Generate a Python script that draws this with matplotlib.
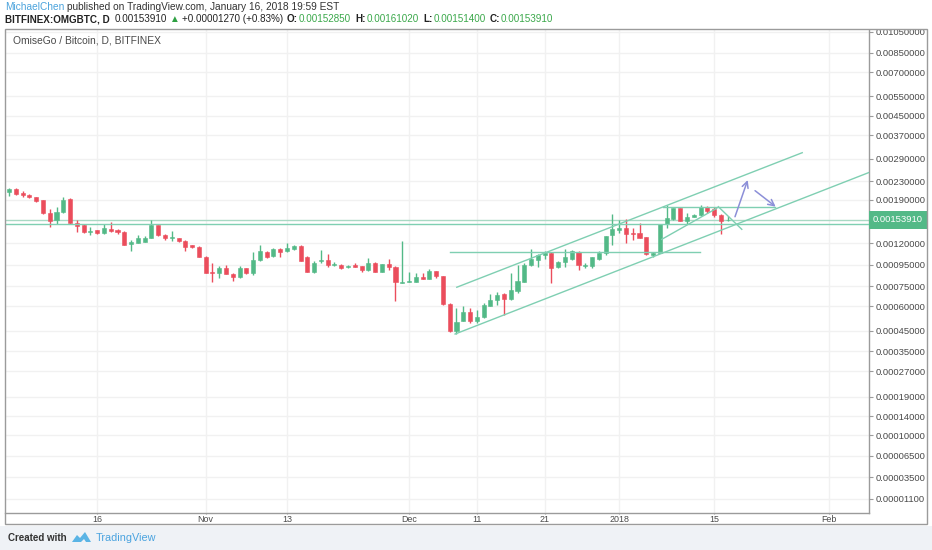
import numpy as np
import pandas as pd
import matplotlib
matplotlib.use('Agg')
import matplotlib.pyplot as plt
import matplotlib.dates as mdates
from matplotlib.patches import Rectangle, Polygon
from matplotlib.transforms import blended_transform_factory

plt.rcParams['font.family'] = ['Liberation Sans', 'DejaVu Sans']

# daily candles, BITFINEX:OMGBTC (values in micro-BTC)
dates = pd.date_range('2017-10-03', '2018-01-17', freq='D')

opens = [2060, 2126, 2039, 2002, 1955, 1894, 1658, 1535, 1671, 1914,
         1492, 1456, 1359, 1381, 1338, 1400, 1381, 1357, 1190, 1206,
         1219, 1272, 1456, 1309, 1272, 1268, 1228, 1173, 1156, 1038,
         882, 866, 915, 860, 829, 915, 866, 1001, 1095, 1046,
         1127, 1107, 1131, 1168, 1038, 882, 990, 998, 951, 951,
         925, 951, 938, 898, 972, 882, 958, 931, 782, 787,
         787, 829, 816, 886, 841, 614, 448, 506, 558, 506,
         527, 602, 642, 685, 647, 714, 789, 948, 1001, 1061,
         1084, 925, 983, 1012, 1095, 942, 938, 1009, 1080, 1309,
         1381, 1406, 1342, 1332, 1278, 1057, 1084, 1472, 1547, 1737,
         1524, 1590, 1618, 1767, 1719, 1618, 1528.5]
highs = [2148, 2137, 2071, 2017, 1965, 1904, 1724, 1761, 1961, 1925,
         1535, 1472, 1430, 1388, 1472, 1508, 1403, 1367, 1241, 1309,
         1295, 1535, 1464, 1323, 1367, 1275, 1241, 1183, 1165, 1046,
         969, 938, 948, 872, 938, 923, 1095, 1177, 1109, 1140,
         1140, 1199, 1177, 1177, 1046, 994, 1115, 1065, 983, 958,
         948, 972, 943, 1027, 980, 963, 1009, 938, 1232, 876,
         866, 866, 905, 891, 845, 618, 587, 600, 585, 573,
         619, 685, 706, 692, 866, 948, 972, 1124, 1069, 1107,
         1092, 986, 1124, 1115, 1103, 972, 1040, 1107, 1302, 1636,
         1535, 1547, 1406, 1492, 1282, 1095, 1480, 1798, 1748, 1743,
         1658, 1636, 1798, 1780, 1767, 1636, 1610.2]
lows = [1976, 1996, 1955, 1935, 1856, 1636, 1426, 1472, 1653, 1480,
        1357, 1338, 1305, 1331, 1331, 1359, 1331, 1177, 1103, 1203,
        1215, 1268, 1295, 1241, 1232, 1215, 1103, 1140, 1035, 869,
        789, 820, 855, 798, 825, 860, 850, 996, 1020, 1040,
        1038, 1095, 1121, 990, 879, 866, 972, 925, 938, 908,
        918, 928, 882, 893, 879, 879, 898, 637, 776, 783,
        783, 809, 813, 820, 607, 445, 431, 504, 494, 490,
        521, 600, 607, 541, 644, 693, 787, 943, 931, 1009,
        780, 921, 931, 1007, 898, 915, 915, 1003, 1057, 1177,
        1342, 1199, 1241, 1268, 1057, 1038, 1080, 1406, 1535, 1519,
        1472, 1580, 1610, 1658, 1590, 1319, 1514]
closes = [2126, 2017, 1996, 1955, 1875, 1653, 1524, 1676, 1894, 1488,
          1441, 1348, 1374, 1338, 1411, 1367, 1348, 1181, 1212, 1264,
          1272, 1456, 1305, 1264, 1282, 1224, 1148, 1148, 1038, 872,
          866, 921, 860, 829, 921, 866, 1001, 1103, 1038, 1127,
          1095, 1136, 1165, 994, 882, 972, 997, 948, 958, 915,
          941, 931, 898, 972, 882, 958, 925, 784, 787, 798,
          829, 813, 891, 844, 611, 448, 500, 558, 506, 527,
          607, 642, 680, 647, 719, 798, 948, 1009, 1057, 1084,
          921, 977, 1031, 1107, 948, 948, 1031, 1084, 1295, 1392,
          1406, 1323, 1323, 1275, 1073, 1077, 1472, 1563, 1737, 1524,
          1590, 1618, 1767, 1694, 1618, 1526.4, 1539.1]

last_price = 0.00153910

price_ticks = [0.0105, 0.0085, 0.0070, 0.0055, 0.0045, 0.0037, 0.0029,
               0.0023, 0.0019, 0.0012, 0.00095, 0.00075, 0.0006, 0.00045,
               0.00035, 0.00027, 0.00019, 0.00014, 0.0001, 0.000065,
               0.000035, 0.000011]
date_ticks = ['2017-10-16', '2017-11-01', '2017-11-13', '2017-12-01',
              '2017-12-11', '2017-12-21', '2018-01-01', '2018-01-15',
              '2018-02-01']
date_labels = ['16', 'Nov', '13', 'Dec', '11', '21', '2018', '15', 'Feb']

# drawings on the chart: (start time, end time), (start price, end price)
channel_top = (['2017-12-08 01:00', '2018-01-28 00:00'], [0.000742, 0.003090])
channel_bottom = (['2017-12-07 19:00', '2018-02-06 20:00'], [0.000432, 0.002520])
support = (['2017-12-07 01:00', '2018-01-12 22:00'], [0.001095, 0.001095])
wedge_top = (['2018-01-07 12:00', '2018-01-24 00:00'], [0.001767, 0.001767])
wedge_up = (['2018-01-07 06:30', '2018-01-15 09:00'], [0.001251, 0.001737])
wedge_down = (['2018-01-15 15:00', '2018-01-19 02:00'], [0.001767, 0.001392])
level_line = 0.001472
arrow_up = (['2018-01-18 02:00', '2018-01-19 23:00'], [0.001590, 0.002332])
arrow_down = (['2018-01-21 01:00', '2018-01-24 02:00'], [0.002088, 0.001767])

UP = '#53b987'
DOWN = '#eb4d5c'
DRAW = '#7fcfb2'
ARROW = '#8c8fd8'
TXT = '#4a4a4a'
FRAME = '#9b9b9b'

W, H = 932, 550
fig = plt.figure(figsize=(W / 100, H / 100), dpi=100)
fig.patch.set_facecolor('white')


def fx(x):
    return x / W


def fy(y):
    return 1 - y / H


# footer band and outer frame
fig.patches.append(Rectangle((0, 0), 1, fy(526), transform=fig.transFigure,
                             facecolor='#eff2f6', edgecolor='none', zorder=0))
fig.patches.append(Rectangle((fx(5), fy(524)), fx(922), (524 - 29) / H,
                             transform=fig.transFigure, facecolor='none',
                             edgecolor=FRAME, lw=1, zorder=5))

ax = fig.add_axes([fx(5), fy(512.7), fx(864), (512.7 - 30) / H])

c = 0.00009
ax.set_yscale('function', functions=(lambda p: np.log10(np.maximum(p + c, 1e-12)),
                                     lambda v: 10 ** v - c))
ax.set_ylim(-0.000002, 0.01071)

x = mdates.date2num(dates)
o = np.array(opens) * 1e-6
h = np.array(highs) * 1e-6
l = np.array(lows) * 1e-6
cl = np.array(closes) * 1e-6
cols = [UP if cc >= oo else DOWN for oo, cc in zip(o, cl)]

ax.vlines(x, l, h, colors=cols, lw=1, zorder=3)
ax.bar(x, np.abs(cl - o), bottom=np.minimum(o, cl), width=0.6, color=cols,
       edgecolor=cols, linewidth=0.4, zorder=4)

x0 = mdates.date2num(pd.Timestamp('2017-10-03'))
ax.set_xlim(x0 - 0.6, x0 + 126.85)


def tline(seg, **kw):
    xs = mdates.date2num(pd.to_datetime(seg[0]))
    ax.plot(xs, seg[1], **kw)


for seg in [channel_top, channel_bottom, support, wedge_top, wedge_up, wedge_down]:
    tline(seg, color=DRAW, lw=1, zorder=5)
ax.axhline(level_line, color=DRAW, lw=1, zorder=5)
ax.axhline(last_price, color='#a9d9c4', lw=1, zorder=2)

for seg in [arrow_up, arrow_down]:
    xs = mdates.date2num(pd.to_datetime(seg[0]))
    ax.annotate('', xy=(xs[1], seg[1][1]), xytext=(xs[0], seg[1][0]),
                arrowprops=dict(arrowstyle='->', color=ARROW, lw=1.1,
                                mutation_scale=11, shrinkA=0, shrinkB=0),
                zorder=6)

# axes styling
ax.set_yticks(price_ticks)
ax.set_yticklabels(['%.8f' % v for v in price_ticks])
ax.yaxis.tick_right()
ax.yaxis.set_minor_locator(matplotlib.ticker.NullLocator())
ax.tick_params(axis='y', length=3, width=0.8, color=FRAME, pad=1.5,
               labelsize=6.8, labelcolor=TXT)
ax.set_xticks(mdates.date2num(pd.to_datetime(date_ticks)))
ax.set_xticklabels(date_labels)
ax.tick_params(axis='x', length=1, width=0.8, color=FRAME, pad=0.4,
               labelsize=6.4, labelcolor=TXT)
ax.grid(True, color='#f1f1f1', lw=1, zorder=0)
ax.set_axisbelow(True)
for side in ['top', 'left']:
    ax.spines[side].set_visible(False)
for side in ['right', 'bottom']:
    ax.spines[side].set_color(FRAME)
    ax.spines[side].set_linewidth(1)

# current price tag on the price scale
ax.text(1.0 + 4.0 / 864, last_price, '%.8f' % last_price,
        transform=blended_transform_factory(ax.transAxes, ax.transData),
        ha='left', va='center', color='white', fontsize=6.8, zorder=10,
        bbox=dict(boxstyle='square,pad=0.45', fc=UP, ec='none'), clip_on=False)

ax.text(fx(8) / fx(864), fy(40.5), 'OmiseGo / Bitcoin, D, BITFINEX',
        transform=blended_transform_factory(ax.transAxes, fig.transFigure),
        ha='left', va='center', fontsize=7.4, color=TXT)

renderer = fig.canvas.get_renderer()


def chain(y, parts, x_start, size):
    # place text pieces one after another, gaps in pixels
    xx = x_start
    for s, col, wt, gap in parts:
        t = fig.text(fx(xx), fy(y), s, color=col, fontsize=size,
                     fontweight=wt, va='center', ha='left')
        xx += t.get_window_extent(renderer=renderer).width + gap


# header
chain(7.5, [('MichaelChen', '#4ba3dc', 'normal', 3),
            ('published on TradingView.com, January 16, 2018 19:59 EST',
             '#333333', 'normal', 0)], 5, 7.3)
G = '#3aa84a'
K = '#222222'
chain(19.5, [('BITFINEX:OMGBTC, D', K, 'bold', 5),
             ('0.00153910', K, 'normal', 3),
             ('\u25B2', '#2ea043', 'normal', 2),
             ('+0.00001270 (+0.83%)', K, 'normal', 4),
             ('O:', K, 'bold', 1), ('0.00152850', G, 'normal', 4),
             ('H:', K, 'bold', 1), ('0.00161020', G, 'normal', 4),
             ('L:', K, 'bold', 1), ('0.00151400', G, 'normal', 4),
             ('C:', K, 'bold', 1), ('0.00153910', G, 'normal', 0)], 5, 7.1)

# footer
fig.text(fx(8), fy(538), 'Created with', color='#333333', fontsize=7.0,
         fontweight='bold', va='center', ha='left')
logo = [(72, 542), (77, 535), (80, 538), (85, 532), (91, 542), (86, 542),
        (84, 539), (81, 542)]
fig.patches.append(Polygon([(fx(a), fy(b)) for a, b in logo], closed=True,
                           transform=fig.transFigure, facecolor='#5ab4e5',
                           edgecolor='none', zorder=6))
fig.text(fx(96), fy(538), 'TradingView', color='#4aa3df', fontsize=7.8,
         va='center', ha='left')

fig.savefig('out.png', dpi=100, facecolor=fig.get_facecolor())
